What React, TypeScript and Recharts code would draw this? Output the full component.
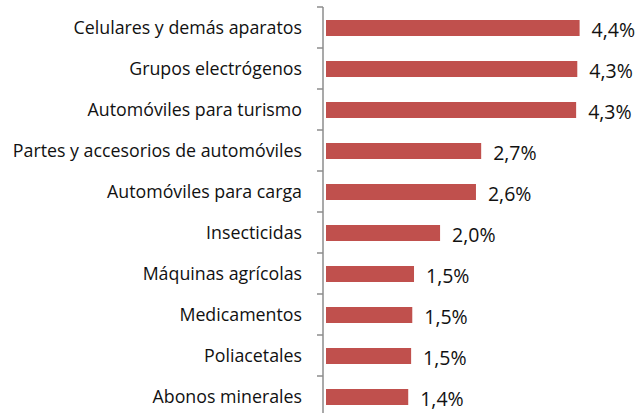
import { BarChart, Bar, XAxis, YAxis, LabelList } from "recharts";

const categories = [
    "Celulares y demás aparatos",
    "Grupos electrógenos",
    "Automóviles para turismo",
    "Partes y accesorios de automóviles",
    "Automóviles para carga",
    "Insecticidas",
    "Máquinas agrícolas",
    "Medicamentos",
    "Poliacetales",
    "Abonos minerales",
];

const shares = [4.38, 4.34, 4.32, 2.68, 2.59, 1.97, 1.52, 1.49, 1.47, 1.42];

const data = categories.map((name, i) => ({ name, value: shares[i] }));

const FONT = "'Open Sans', sans-serif";
const HALF_BAND = 20.5;

function fmt(v: number) {
    return `${v.toFixed(1).replace(".", ",")}%`;
}

// category label plus a tick at the top edge of its band (Excel style)
function CatTick(props: any) {
    const { y, payload } = props;
    return (
        <g>
            <line x1={317} x2={323} y1={y - HALF_BAND} y2={y - HALF_BAND} stroke="#8c8c8c" strokeWidth={1.5} />
            <text x={302} y={y} dy="0.35em" textAnchor="end" fontSize={17.8} fontFamily={FONT} fill="#111">
                {payload.value}
            </text>
        </g>
    );
}

export default function App() {
    return (
        <div style={{ position: "absolute", left: 0, top: 0, width: 636, height: 413, overflow: "hidden" }}>
            <BarChart
                width={636}
                height={417}
                data={data}
                layout="vertical"
                margin={{ top: 7, right: 0, bottom: 0, left: 0 }}
            >
                <XAxis type="number" domain={[-0.052, 5.354]} allowDataOverflow hide />
                <YAxis
                    type="category"
                    dataKey="name"
                    width={323}
                    tickLine={false}
                    tick={<CatTick />}
                    axisLine={{ stroke: "#8c8c8c", strokeWidth: 1.5 }}
                    interval={0}
                />
                <Bar dataKey="value" fill="#C0504D" barSize={16} isAnimationActive={false}>
                    <LabelList
                        dataKey="value"
                        position="right"
                        offset={12}
                        dy={2}
                        formatter={(v: any) => fmt(Number(v))}
                        style={{ fontSize: 19.5, fontFamily: FONT, fill: "#111" }}
                    />
                </Bar>
            </BarChart>
        </div>
    );
}
